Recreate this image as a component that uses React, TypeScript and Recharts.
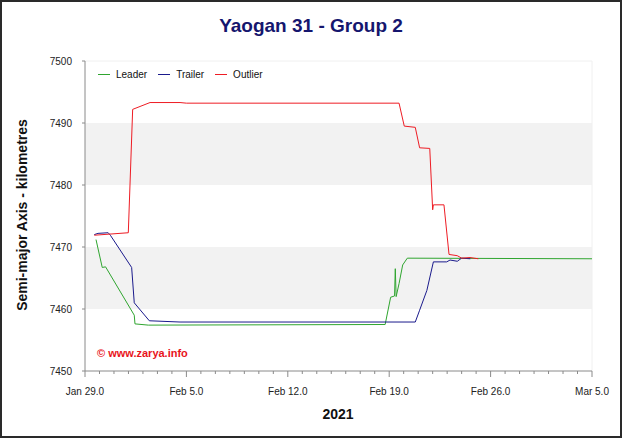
import React from 'react';
import { LineChart, Line, XAxis, YAxis, ReferenceArea, ReferenceLine, Legend } from 'recharts';

// days after Jan 29.0 2021, semi-major axis in km
const LEADER = [
  { d: 0.76, v: 7471.2 },
  { d: 1.19, v: 7466.7 },
  { d: 1.42, v: 7466.8 },
  { d: 3.4, v: 7459.0 },
  { d: 3.45, v: 7457.6 },
  { d: 4.37, v: 7457.4 },
  { d: 20.72, v: 7457.5 },
  { d: 21.1, v: 7461.9 },
  { d: 21.37, v: 7462.1 },
  { d: 21.42, v: 7466.5 },
  { d: 21.48, v: 7462.0 },
  { d: 21.68, v: 7464.1 },
  { d: 21.93, v: 7467.1 },
  { d: 22.25, v: 7468.2 },
  { d: 35, v: 7468.1 },
];

const TRAILER = [
  { d: 0.64, v: 7472.0 },
  { d: 0.9, v: 7472.2 },
  { d: 1.6, v: 7472.3 },
  { d: 1.75, v: 7471.9 },
  { d: 3.22, v: 7466.7 },
  { d: 3.4, v: 7461.0 },
  { d: 4.44, v: 7458.1 },
  { d: 6.56, v: 7457.9 },
  { d: 22.8, v: 7457.9 },
  { d: 23.1, v: 7459.8 },
  { d: 23.6, v: 7463.0 },
  { d: 24.05, v: 7467.6 },
  { d: 24.97, v: 7467.6 },
  { d: 25.2, v: 7467.9 },
  { d: 25.7, v: 7467.7 },
  { d: 26.0, v: 7468.2 },
  { d: 26.6, v: 7468.1 },
];

const OUTLIER = [
  { d: 0.64, v: 7471.9 },
  { d: 2.99, v: 7472.3 },
  { d: 3.29, v: 7492.2 },
  { d: 4.49, v: 7493.3 },
  { d: 6.56, v: 7493.3 },
  { d: 7.0, v: 7493.2 },
  { d: 21.68, v: 7493.2 },
  { d: 22.04, v: 7489.5 },
  { d: 22.8, v: 7489.3 },
  { d: 23.1, v: 7486.0 },
  { d: 23.8, v: 7485.9 },
  { d: 24.0, v: 7476.0 },
  { d: 24.05, v: 7476.8 },
  { d: 24.78, v: 7476.8 },
  { d: 25.13, v: 7468.8 },
  { d: 25.7, v: 7468.6 },
  { d: 26.0, v: 7468.2 },
  { d: 26.58, v: 7468.3 },
  { d: 27.15, v: 7468.1 },
];

const SERIES_ORDER = ['Leader', 'Trailer', 'Outlier'];
const X_LABELS = ['Jan 29.0', 'Feb 5.0', 'Feb 12.0', 'Feb 19.0', 'Feb 26.0', 'Mar 5.0'];
const Y_TICKS = [7450, 7460, 7470, 7480, 7490, 7500];
const DAY_TICKS = Array.from({ length: 36 }, (_, i) => i);

const FONT = 'Arial, "Liberation Sans", sans-serif';

const XTick = (props: any) => {
  const { x, y, payload } = props;
  const major = payload.value % 7 === 0;
  return (
    <g>
      <line x1={x} x2={x} y1={y} y2={y + (major ? 6 : 3)} stroke="#8a8a8a" />
      {major && (
        <text x={x} y={y + 24} textAnchor="middle" fontSize={10} fill="#222" fontFamily={FONT}>
          {X_LABELS[payload.value / 7]}
        </text>
      )}
    </g>
  );
};

const LegendContent = (props: any) => {
  const items = [...(props.payload || [])].sort(
    (a: any, b: any) => SERIES_ORDER.indexOf(a.value) - SERIES_ORDER.indexOf(b.value)
  );
  return (
    <div style={{ display: 'flex', fontFamily: FONT, fontSize: 10, color: '#111' }}>
      {items.map((it: any) => (
        <div key={it.value} style={{ display: 'flex', alignItems: 'center', marginRight: 11 }}>
          <div style={{ width: 12, height: 1, background: it.color, marginRight: 6 }} />
          <span>{it.value}</span>
        </div>
      ))}
    </div>
  );
};

export default function App() {
  return (
    <div
      style={{
        position: 'absolute',
        left: 0,
        top: 0,
        width: 622,
        height: 438,
        background: '#fff',
        border: '2px solid #2a2a2a',
        boxSizing: 'border-box',
        fontFamily: FONT,
      }}
    >
      <div
        style={{
          position: 'absolute',
          left: -2,
          top: 13,
          width: 622,
          textAlign: 'center',
          fontSize: 19,
          fontWeight: 'bold',
          color: '#15166e',
        }}
      >
        Yaogan 31 - Group 2
      </div>
      <div style={{ position: 'absolute', left: -2, top: -2 }}>
        <LineChart width={622} height={438} margin={{ top: 61, right: 30, bottom: 0, left: 0 }}>
          <ReferenceArea y1={7480} y2={7490} fill="#f2f2f2" fillOpacity={1} stroke="none" />
          <ReferenceArea y1={7460} y2={7470} fill="#f2f2f2" fillOpacity={1} stroke="none" />
          <ReferenceLine y={7500} stroke="#f0f0f0" />
          <ReferenceLine x={35} stroke="#f0f0f0" />
          <XAxis
            type="number"
            dataKey="d"
            domain={[0, 35]}
            ticks={DAY_TICKS}
            interval={0}
            tick={<XTick />}
            tickLine={false}
            tickSize={0}
            tickMargin={0}
            height={67}
            axisLine={{ stroke: '#8a8a8a' }}
            allowDuplicatedCategory={false}
          />
          <YAxis
            type="number"
            domain={[7450, 7500]}
            ticks={Y_TICKS}
            width={85}
            tickSize={3}
            tickMargin={10}
            tickLine={{ stroke: '#8a8a8a' }}
            axisLine={{ stroke: '#8a8a8a' }}
            tick={{ fontSize: 10, fill: '#222', fontFamily: FONT }}
          />
          <Legend
            layout="horizontal"
            verticalAlign="middle"
            align="center"
            content={<LegendContent />}
            wrapperStyle={{ position: 'absolute', left: 98, top: 69, width: 300 }}
          />
          <Line data={LEADER} dataKey="v" name="Leader" stroke="#2fa52f" strokeWidth={1} dot={false} isAnimationActive={false} />
          <Line data={TRAILER} dataKey="v" name="Trailer" stroke="#1a1a8c" strokeWidth={1} dot={false} isAnimationActive={false} />
          <Line data={OUTLIER} dataKey="v" name="Outlier" stroke="#ee1c24" strokeWidth={1} dot={false} isAnimationActive={false} />
        </LineChart>
      </div>
      <div
        style={{
          position: 'absolute',
          left: 95,
          top: 345,
          fontSize: 11,
          fontWeight: 'bold',
          color: '#e8141c',
        }}
      >
        © www.zarya.info
      </div>
      <div
        style={{
          position: 'absolute',
          left: 236,
          top: 404,
          width: 200,
          textAlign: 'center',
          fontSize: 14,
          fontWeight: 'bold',
          color: '#111',
        }}
      >
        2021
      </div>
      <div
        style={{
          position: 'absolute',
          left: 20,
          top: 214,
          width: 0,
          height: 0,
        }}
      >
        <div
          style={{
            position: 'absolute',
            left: -150,
            top: -9,
            width: 300,
            textAlign: 'center',
            fontSize: 14,
            fontWeight: 'bold',
            color: '#111',
            transform: 'rotate(-90deg)',
            whiteSpace: 'nowrap',
          }}
        >
          Semi-major Axis - kilometres
        </div>
      </div>
    </div>
  );
}
